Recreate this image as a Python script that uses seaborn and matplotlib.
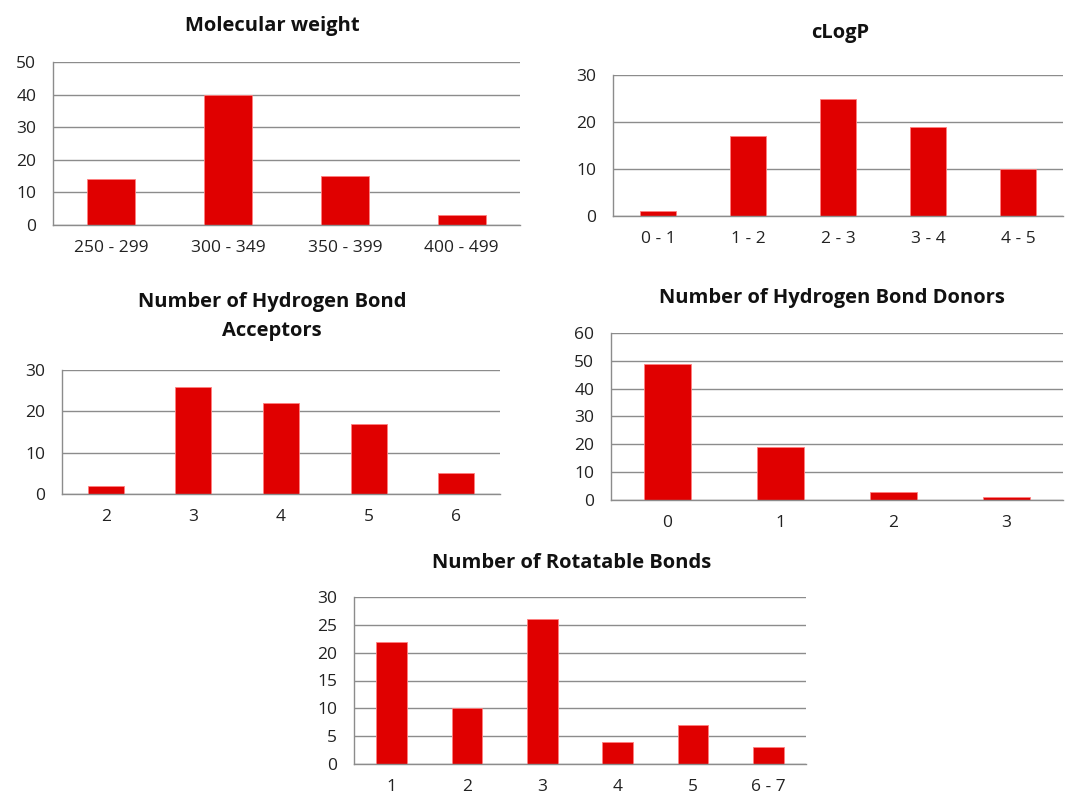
import matplotlib
matplotlib.use("Agg")
import matplotlib.pyplot as plt
import seaborn as sns
import pandas as pd

# data
mw_bins = ["250 - 299", "300 - 349", "350 - 399", "400 - 499"]
mw_counts = [14, 40, 15, 3]

clogp_bins = ["0 - 1", "1 - 2", "2 - 3", "3 - 4", "4 - 5"]
clogp_counts = [1, 17, 25, 19, 10]

hba_bins = ["2", "3", "4", "5", "6"]
hba_counts = [2, 26, 22, 17, 5]

hbd_bins = ["0", "1", "2", "3"]
hbd_counts = [49, 19, 3, 1]

rot_bins = ["1", "2", "3", "4", "5", "6 - 7"]
rot_counts = [22, 10, 26, 4, 7, 3]

BAR_COLOR = "#E00000"
GRID_COLOR = "#8c8c8c"

sns.set_style("white")
plt.rcParams["font.family"] = ["Open Sans", "DejaVu Sans"]

W, H = 1068, 794
fig = plt.figure(figsize=(W / 100, H / 100), dpi=100)


def px_axes(x0, y0, x1, y1):
    """axes from pixel box (top-left origin)"""
    return fig.add_axes([x0 / W, 1 - y1 / H, (x1 - x0) / W, (y1 - y0) / H])


def draw_panel(box, cats, vals, ymax, step, title, title_xy):
    ax = px_axes(*box)
    df = pd.DataFrame({"bin": cats, "count": vals})
    sns.barplot(data=df, x="bin", y="count", color=BAR_COLOR, width=0.41,
                saturation=1, ax=ax, edgecolor="#ff8080", linewidth=0.6)
    n = len(cats)
    ax.set_xlim(-0.5, n - 0.5)
    ax.set_ylim(0, ymax)
    ax.set_yticks(range(0, ymax + 1, step))
    ax.yaxis.grid(True, color=GRID_COLOR, linewidth=1)
    ax.set_axisbelow(True)
    ax.set_xlabel("")
    ax.set_ylabel("")
    for s in ["top", "right"]:
        ax.spines[s].set_visible(False)
    for s in ["left", "bottom"]:
        ax.spines[s].set_color(GRID_COLOR)
        ax.spines[s].set_linewidth(1)
    ax.set_xticks([k - 0.5 for k in range(n + 1)], minor=True)
    ax.tick_params(axis="x", which="major", length=0, labelsize=12.5,
                   labelcolor="#222222", pad=11)
    ax.tick_params(axis="x", which="minor", length=6, color=GRID_COLOR,
                   direction="out", width=1)
    ax.tick_params(axis="y", length=5, color=GRID_COLOR, direction="out",
                   labelsize=12.5, labelcolor="#222222", pad=7)
    fig.text(title_xy[0] / W, 1 - title_xy[1] / H, title, ha="center",
             va="center", fontsize=14.5, fontweight="bold", color="#111111",
             linespacing=1.6)
    return ax


draw_panel((53, 62, 520, 225), mw_bins, mw_counts, 50, 10,
           "Molecular weight", (272, 26))
draw_panel((613, 75, 1063, 216), clogp_bins, clogp_counts, 30, 10,
           "cLogP", (840, 33))
draw_panel((62, 370, 500, 494), hba_bins, hba_counts, 30, 10,
           "Number of Hydrogen Bond\nAcceptors", (272, 317))
draw_panel((611, 333, 1063, 500), hbd_bins, hbd_counts, 60, 10,
           "Number of Hydrogen Bond Donors", (832, 298))
draw_panel((354, 597, 806, 764), rot_bins, rot_counts, 30, 5,
           "Number of Rotatable Bonds", (572, 563))

fig.savefig("out.png", dpi=100, facecolor="white")
